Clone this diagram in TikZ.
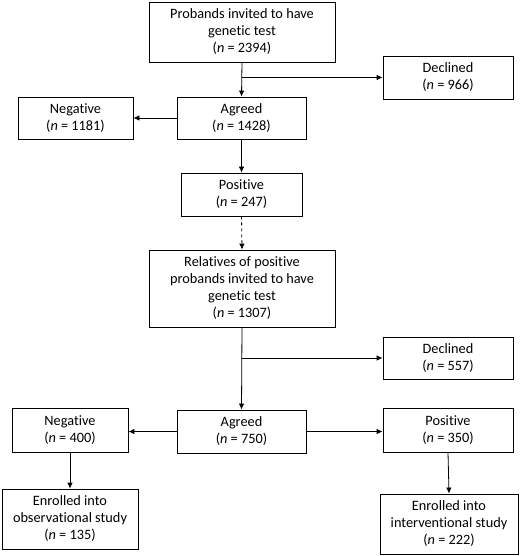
\documentclass[tikz,border=0pt]{standalone}
\usepackage{fontspec}
\setmainfont{Carlito}[Ligatures=NoCommon]
\usetikzlibrary{arrows.meta, positioning}
\tikzset{%
	box/.style={draw, rectangle, align=center, inner sep=0mm, line width=0.8pt,%
		font=\fontsize{14.3}{17}\selectfont},
	flow/.style={-{Latex[length=6pt, width=5.5pt]}, line width=0.8pt},
	maybe/.style={flow, dashed}
}
\newcommand{\ncount}[1]{(\textit{n} = #1)}

\begin{document}
\begin{tikzpicture}[x=1pt, y=-1pt]
	\useasboundingbox (0,0) rectangle (520,556);
	% probands
	\node[box, minimum width=186pt, minimum height=60pt] (probands) at (242,32) {Probands invited to have\\genetic test\\\ncount{2394}};
	\node[box, minimum width=130pt, minimum height=43pt] (decl1) at (448,77.5) {Declined\\\ncount{966}};
	\node[box, minimum width=129pt, minimum height=42pt] (agreed1) at (241.5,118) {Agreed\\\ncount{1428}};
	\node[box, minimum width=115pt, minimum height=42pt] (neg1) at (75.5,118) {Negative\\\ncount{1181}};
	\node[box, minimum width=121pt, minimum height=43pt] (pos1) at (241.5,194.5) {Positive\\\ncount{247}};
	% relatives
	\node[box, minimum width=186pt, minimum height=77pt] (rel) at (242,288.5) {Relatives of positive\\probands invited to have\\genetic test\\\ncount{1307}};
	\node[box, minimum width=130pt, minimum height=42pt] (decl2) at (448,358) {Declined\\\ncount{557}};
	\node[box, minimum width=129pt, minimum height=43pt] (agreed2) at (241.5,431.5) {Agreed\\\ncount{750}};
	\node[box, minimum width=116pt, minimum height=44pt] (neg2) at (70,430) {Negative\\\ncount{400}};
	\node[box, minimum width=130pt, minimum height=44pt] (pos2) at (448,430) {Positive\\\ncount{350}};
	\node[box, minimum width=136pt, minimum height=60pt] (obs) at (70,519) {Enrolled into\\observational study\\\ncount{135}};
	\node[box, minimum width=138pt, minimum height=60pt] (inter) at (449,524) {Enrolled into\\interventional study\\\ncount{222}};

	\coordinate (split1) at (probands.south |- decl1.west);
	\coordinate (split2) at (rel.south |- decl2.west);

	\draw[flow] (probands.south) -- (agreed1.north);
	\draw[flow] (split1) -- (decl1.west);
	\draw[flow] (agreed1.west) -- (neg1.east);
	\draw[flow] (agreed1.south) -- (pos1.north);
	\draw[maybe] (pos1.south) -- (rel.north);
	\draw[flow] (rel.south) -- (agreed2.north);
	\draw[flow] (split2) -- (decl2.west);
	\draw[flow] (agreed2.west) -- (neg2.east |- agreed2.west);
	\draw[flow] (agreed2.east) -- (pos2.west |- agreed2.east);
	\draw[flow] (neg2.south) -- (obs.north);
	\draw[flow] (pos2.south) -- (inter.north);
\end{tikzpicture}
\end{document}
